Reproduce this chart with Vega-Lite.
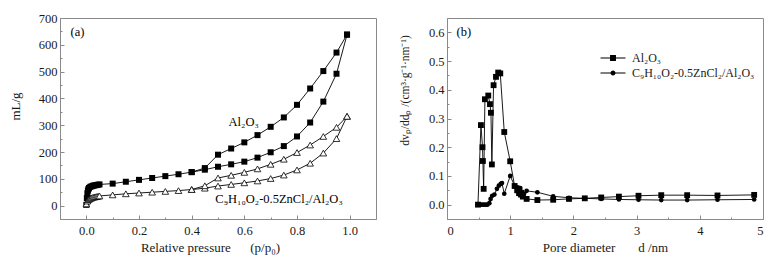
{
  "$schema": "https://vega.github.io/schema/vega-lite/v6.json",
  "background": "white",
  "padding": {"left": 8, "top": 11, "right": 10, "bottom": 4},
  "spacing": 21,
  "resolve": {"legend": {"shape": "independent"}},
  "config": {
    "font": "Liberation Serif",
    "view": {"stroke": "#8a8a8a", "strokeWidth": 1},
    "axis": {
      "grid": false,
      "domainColor": "#8a8a8a",
      "tickColor": "#8a8a8a",
      "tickSize": -4,
      "labelColor": "#1a1a1a",
      "titleColor": "#1a1a1a",
      "labelFont": "Liberation Serif",
      "titleFont": "Liberation Serif",
      "labelFontSize": 12.5,
      "titleFontSize": 13,
      "titleFontWeight": "normal"
    }
  },
  "datasets": {
    "iso": [
      {"s":"A","b":"ads","p":0.0,"v":3},{"s":"A","b":"ads","p":0.002,"v":28},{"s":"A","b":"ads","p":0.004,"v":46},{"s":"A","b":"ads","p":0.006,"v":56},{"s":"A","b":"ads","p":0.008,"v":62},{"s":"A","b":"ads","p":0.01,"v":66},{"s":"A","b":"ads","p":0.015,"v":70},{"s":"A","b":"ads","p":0.02,"v":72},{"s":"A","b":"ads","p":0.025,"v":74},{"s":"A","b":"ads","p":0.03,"v":75},{"s":"A","b":"ads","p":0.035,"v":76},{"s":"A","b":"ads","p":0.04,"v":77},{"s":"A","b":"ads","p":0.045,"v":78},{"s":"A","b":"ads","p":0.05,"v":79},
      {"s":"A","b":"ads","p":0.1,"v":82},{"s":"A","b":"ads","p":0.15,"v":89},{"s":"A","b":"ads","p":0.2,"v":96},{"s":"A","b":"ads","p":0.25,"v":103},{"s":"A","b":"ads","p":0.3,"v":110},{"s":"A","b":"ads","p":0.35,"v":117},{"s":"A","b":"ads","p":0.4,"v":125},{"s":"A","b":"ads","p":0.45,"v":134},{"s":"A","b":"ads","p":0.5,"v":145},{"s":"A","b":"ads","p":0.55,"v":154},{"s":"A","b":"ads","p":0.6,"v":164},{"s":"A","b":"ads","p":0.65,"v":179},{"s":"A","b":"ads","p":0.7,"v":199},{"s":"A","b":"ads","p":0.75,"v":222},{"s":"A","b":"ads","p":0.8,"v":258},{"s":"A","b":"ads","p":0.85,"v":310},{"s":"A","b":"ads","p":0.9,"v":388},{"s":"A","b":"ads","p":0.95,"v":492},{"s":"A","b":"ads","p":0.99,"v":638},
      {"s":"A","b":"des","p":0.4,"v":125},{"s":"A","b":"des","p":0.45,"v":140},{"s":"A","b":"des","p":0.5,"v":190},{"s":"A","b":"des","p":0.55,"v":213},{"s":"A","b":"des","p":0.6,"v":236},{"s":"A","b":"des","p":0.65,"v":263},{"s":"A","b":"des","p":0.7,"v":294},{"s":"A","b":"des","p":0.75,"v":329},{"s":"A","b":"des","p":0.8,"v":376},{"s":"A","b":"des","p":0.85,"v":437},{"s":"A","b":"des","p":0.9,"v":502},{"s":"A","b":"des","p":0.95,"v":571},{"s":"A","b":"des","p":0.99,"v":638},
      {"s":"C","b":"ads","p":0.0,"v":6},{"s":"C","b":"ads","p":0.004,"v":17},{"s":"C","b":"ads","p":0.008,"v":22},{"s":"C","b":"ads","p":0.012,"v":25},{"s":"C","b":"ads","p":0.016,"v":27},{"s":"C","b":"ads","p":0.02,"v":29},{"s":"C","b":"ads","p":0.025,"v":31},{"s":"C","b":"ads","p":0.03,"v":32},{"s":"C","b":"ads","p":0.035,"v":33},{"s":"C","b":"ads","p":0.04,"v":34},{"s":"C","b":"ads","p":0.045,"v":35},{"s":"C","b":"ads","p":0.05,"v":36},
      {"s":"C","b":"ads","p":0.1,"v":40},{"s":"C","b":"ads","p":0.15,"v":44},{"s":"C","b":"ads","p":0.2,"v":47},{"s":"C","b":"ads","p":0.25,"v":50},{"s":"C","b":"ads","p":0.3,"v":53},{"s":"C","b":"ads","p":0.35,"v":56},{"s":"C","b":"ads","p":0.4,"v":60},{"s":"C","b":"ads","p":0.45,"v":65},{"s":"C","b":"ads","p":0.5,"v":73},{"s":"C","b":"ads","p":0.55,"v":79},{"s":"C","b":"ads","p":0.6,"v":85},{"s":"C","b":"ads","p":0.65,"v":92},{"s":"C","b":"ads","p":0.7,"v":101},{"s":"C","b":"ads","p":0.75,"v":114},{"s":"C","b":"ads","p":0.8,"v":133},{"s":"C","b":"ads","p":0.85,"v":158},{"s":"C","b":"ads","p":0.9,"v":196},{"s":"C","b":"ads","p":0.95,"v":250},{"s":"C","b":"ads","p":0.99,"v":333},
      {"s":"C","b":"des","p":0.4,"v":60},{"s":"C","b":"des","p":0.45,"v":74},{"s":"C","b":"des","p":0.5,"v":103},{"s":"C","b":"des","p":0.55,"v":113},{"s":"C","b":"des","p":0.6,"v":124},{"s":"C","b":"des","p":0.65,"v":137},{"s":"C","b":"des","p":0.7,"v":154},{"s":"C","b":"des","p":0.75,"v":173},{"s":"C","b":"des","p":0.8,"v":198},{"s":"C","b":"des","p":0.85,"v":226},{"s":"C","b":"des","p":0.9,"v":258},{"s":"C","b":"des","p":0.95,"v":292},{"s":"C","b":"des","p":0.99,"v":333}
    ],
    "psd": [
      {"s":"A","d":0.49,"dv":0.0},{"s":"A","d":0.537,"dv":0.277},{"s":"A","d":0.562,"dv":0.2},{"s":"A","d":0.568,"dv":0.152},{"s":"A","d":0.58,"dv":0.055},{"s":"A","d":0.6,"dv":0.367},{"s":"A","d":0.653,"dv":0.38},{"s":"A","d":0.68,"dv":0.35},{"s":"A","d":0.695,"dv":0.32},{"s":"A","d":0.71,"dv":0.14},{"s":"A","d":0.737,"dv":0.416},{"s":"A","d":0.775,"dv":0.445},{"s":"A","d":0.81,"dv":0.46},{"s":"A","d":0.843,"dv":0.457},{"s":"A","d":0.906,"dv":0.253},{"s":"A","d":1.0,"dv":0.151},{"s":"A","d":1.07,"dv":0.065},{"s":"A","d":1.11,"dv":0.05},{"s":"A","d":1.14,"dv":0.04},{"s":"A","d":1.17,"dv":0.035},{"s":"A","d":1.2,"dv":0.028},{"s":"A","d":1.26,"dv":0.02},{"s":"A","d":1.43,"dv":0.016},{"s":"A","d":1.68,"dv":0.017},{"s":"A","d":1.93,"dv":0.02},{"s":"A","d":2.18,"dv":0.022},{"s":"A","d":2.44,"dv":0.025},{"s":"A","d":2.72,"dv":0.028},{"s":"A","d":3.03,"dv":0.031},{"s":"A","d":3.39,"dv":0.033},{"s":"A","d":3.8,"dv":0.033},{"s":"A","d":4.28,"dv":0.032},{"s":"A","d":4.86,"dv":0.034},
      {"s":"C","d":0.49,"dv":0.0},{"s":"C","d":0.52,"dv":0.0},{"s":"C","d":0.55,"dv":0.0},{"s":"C","d":0.58,"dv":0.0},{"s":"C","d":0.61,"dv":0.0},{"s":"C","d":0.64,"dv":0.0},{"s":"C","d":0.67,"dv":0.005},{"s":"C","d":0.69,"dv":0.02},{"s":"C","d":0.715,"dv":0.031},{"s":"C","d":0.75,"dv":0.035},{"s":"C","d":0.79,"dv":0.055},{"s":"C","d":0.82,"dv":0.066},{"s":"C","d":0.85,"dv":0.072},{"s":"C","d":0.87,"dv":0.075},{"s":"C","d":0.906,"dv":0.038},{"s":"C","d":1.0,"dv":0.1},{"s":"C","d":1.075,"dv":0.063},{"s":"C","d":1.12,"dv":0.06},{"s":"C","d":1.16,"dv":0.058},{"s":"C","d":1.19,"dv":0.045},{"s":"C","d":1.22,"dv":0.038},{"s":"C","d":1.26,"dv":0.048},{"s":"C","d":1.43,"dv":0.043},{"s":"C","d":1.68,"dv":0.029},{"s":"C","d":1.93,"dv":0.024},{"s":"C","d":2.18,"dv":0.022},{"s":"C","d":2.44,"dv":0.02},{"s":"C","d":2.72,"dv":0.018},{"s":"C","d":3.03,"dv":0.017},{"s":"C","d":3.39,"dv":0.016},{"s":"C","d":3.8,"dv":0.016},{"s":"C","d":4.28,"dv":0.017},{"s":"C","d":4.86,"dv":0.018}
    ],
    "notesA": [
      {"p": -0.06, "v": 647, "t": "(a)"},
      {"p": 0.54, "v": 312, "t": "Al\u2082O\u2083"},
      {"p": 0.49, "v": 24, "t": "C\u2089H\u2081\u2080O\u2082-0.5ZnCl\u2082/Al\u2082O\u2083"}
    ],
    "notesB": [
      {"d": 0.15, "dv": 0.6, "t": "(b)"}
    ]
  },
  "hconcat": [
    {
      "width": 316,
      "height": 201,
      "data": {"name": "iso"},
      "encoding": {
        "x": {"field": "p", "type": "quantitative",
          "scale": {"domain": [-0.1, 1.1], "nice": false, "zero": false},
          "axis": {"title": "Relative pressure\u00a0\u00a0\u00a0\u00a0\u00a0\u00a0(p/p\u2080)",
            "values": [0,0.1,0.2,0.3,0.4,0.5,0.6,0.7,0.8,0.9,1.0],
            "labelExpr": "round(datum.value*10)%2==0 ? format(datum.value,'.1f') : ''",
            "tickSize": {"condition": {"test": "round(datum.value*10)%2!=0", "value": -2}, "value": -4},
            "labelPadding": 9, "titlePadding": 5, "titleX": 150}},
        "y": {"field": "v", "type": "quantitative",
          "scale": {"domain": [-50, 700], "nice": false, "zero": false},
          "axis": {"title": "mL/g",
            "values": [0,50,100,150,200,250,300,350,400,450,500,550,600,650,700],
            "labelExpr": "datum.value%100==0 ? format(datum.value,'d') : ''",
            "tickSize": {"condition": {"test": "datum.value%100!=0", "value": -2}, "value": -4},
            "labelPadding": 7, "titlePadding": 16, "titleY": 88}}
      },
      "layer": [
        {"mark": {"type": "line", "color": "black", "strokeWidth": 0.9},
         "encoding": {"detail": [{"field": "s"}, {"field": "b"}]}},
        {"transform": [{"filter": "datum.s=='A'"}],
         "mark": {"type": "point", "shape": "square", "filled": true, "color": "black", "size": 36, "opacity": 1}},
        {"transform": [{"filter": "datum.s=='C'"}],
         "mark": {"type": "point", "shape": "triangle-up", "filled": true, "fill": "white", "stroke": "black", "strokeWidth": 0.8, "size": 44, "opacity": 1}},
        {"data": {"name": "notesA"},
         "mark": {"type": "text", "align": "left", "baseline": "middle", "fontSize": 12.5, "color": "black"},
         "encoding": {"text": {"field": "t", "type": "nominal"}}}
      ]
    },
    {
      "width": 316,
      "height": 201,
      "data": {"name": "psd"},
      "encoding": {
        "x": {"field": "d", "type": "quantitative",
          "scale": {"domain": [0, 5], "nice": false, "zero": false},
          "axis": {"title": "Pore diameter\u00a0\u00a0\u00a0\u00a0\u00a0\u00a0\u00a0d /nm",
            "values": [0,0.5,1,1.5,2,2.5,3,3.5,4,4.5,5],
            "labelExpr": "datum.value%1==0 ? format(datum.value,'d') : ''",
            "tickSize": {"condition": {"test": "datum.value%1!=0", "value": -2}, "value": -4},
            "labelPadding": 9, "titlePadding": 5}},
        "y": {"field": "dv", "type": "quantitative",
          "scale": {"domain": [-0.05, 0.65], "nice": false, "zero": false},
          "axis": {"title": "dv\u209a/dd\u209a /(cm\u00b3\u00b7g\u207b\u00b9\u00b7nm\u207b\u00b9)",
            "values": [0,0.05,0.1,0.15,0.2,0.25,0.3,0.35,0.4,0.45,0.5,0.55,0.6],
            "labelExpr": "round(datum.value*100)%10==0 ? format(datum.value,'.1f') : ''",
            "tickSize": {"condition": {"test": "round(datum.value*100)%10!=0", "value": -2}, "value": -4},
            "labelPadding": 7, "titlePadding": 18, "titleFontSize": 11.5, "titleY": 72}}
      },
      "layer": [
        {"mark": {"type": "line", "color": "black", "strokeWidth": 0.9},
         "encoding": {"detail": {"field": "s"}}},
        {"transform": [{"filter": "datum.s=='A'"}],
         "mark": {"type": "point", "shape": "square", "filled": true, "color": "black", "size": 34, "opacity": 1}},
        {"transform": [{"filter": "datum.s=='C'"}],
         "mark": {"type": "point", "shape": "circle", "filled": true, "color": "black", "size": 22, "opacity": 1}},
        {"data": {"name": "notesB"},
         "mark": {"type": "text", "align": "left", "baseline": "middle", "fontSize": 12.5, "color": "black"},
         "encoding": {"text": {"field": "t", "type": "nominal"}}},
        {"transform": [{"filter": "false"}],
         "mark": {"type": "point", "filled": true, "color": "black", "opacity": 1},
         "encoding": {
           "shape": {"field": "lab", "type": "nominal",
             "scale": {"domain": ["Al\u2082O\u2083", "C\u2089H\u2081\u2080O\u2082-0.5ZnCl\u2082/Al\u2082O\u2083"],
                       "range": ["M-1.6,-0.065H1.6V0.065H-1.6ZM-0.38,-0.38H0.38V0.38H-0.38Z", "M-1.6,-0.065H1.6V0.065H-1.6ZM0.32,0A0.32,0.32,0,1,1,-0.32,0A0.32,0.32,0,1,1,0.32,0Z"]},
             "legend": {"title": null, "orient": "none", "legendX": 158, "legendY": 32, "padding": 0,
               "symbolSize": 244, "symbolFillColor": "black", "symbolStrokeWidth": 0,
               "labelFont": "Liberation Serif", "labelFontSize": 12, "labelColor": "#1a1a1a", "labelOffset": 11, "labelLimit": 400, "rowPadding": 1}}
         }}
      ]
    }
  ]
}
